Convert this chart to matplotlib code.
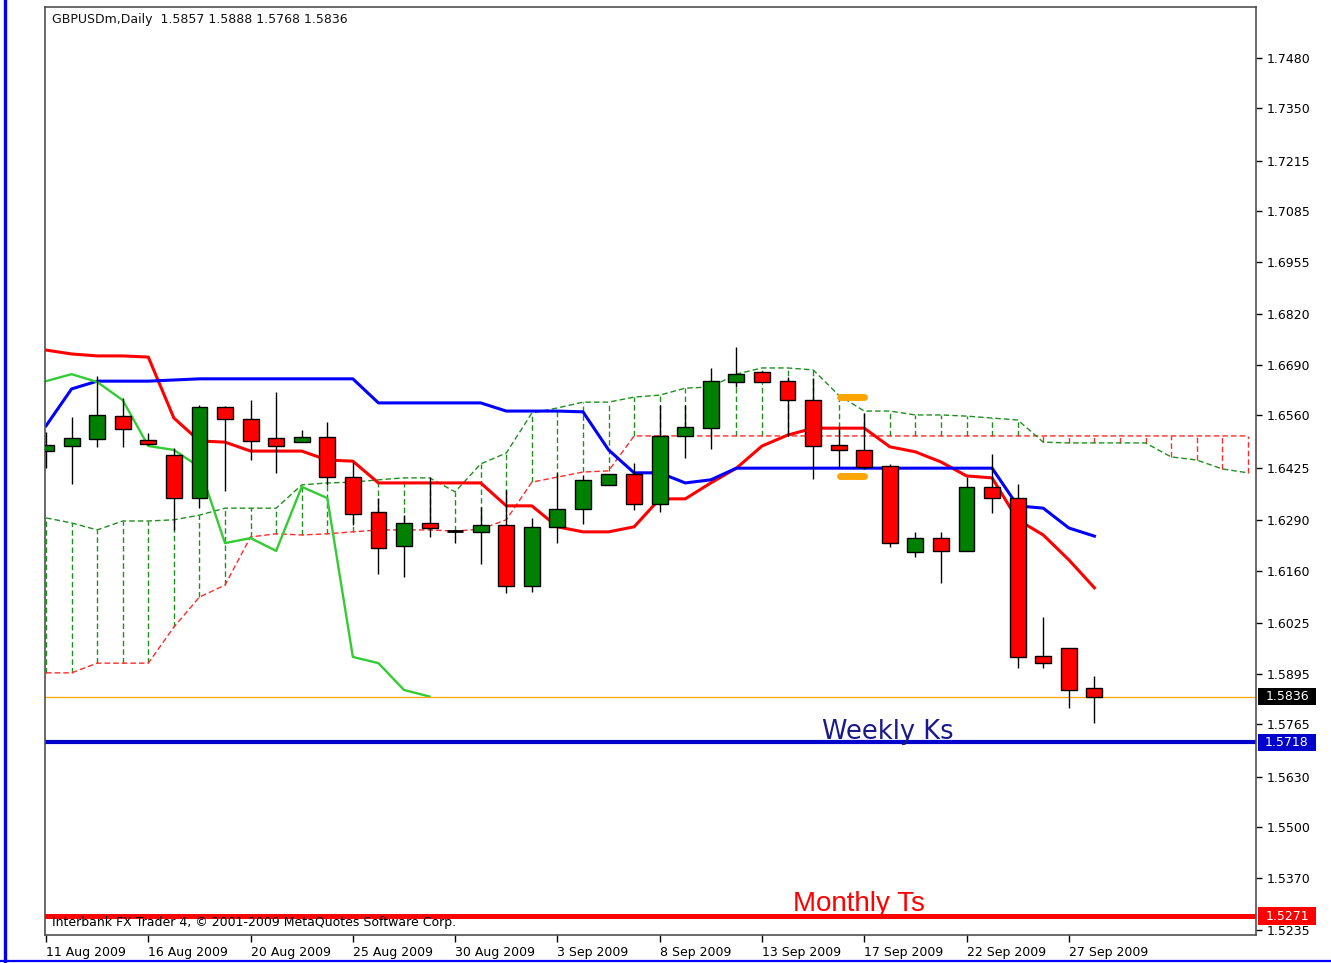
import matplotlib
matplotlib.use("Agg")
import matplotlib.pyplot as plt
import matplotlib.transforms as mtransforms
from matplotlib.patches import Rectangle
from matplotlib.lines import Line2D
import numpy as np

# GBPUSDm daily bars, 11 Aug 2009 .. 28 Sep 2009
opens = [1.6468, 1.6481, 1.6499, 1.6558, 1.6497, 1.6458, 1.6347, 1.6581, 1.6551, 1.6502,
         1.6491, 1.6504, 1.6401, 1.6311, 1.6224, 1.6283, 1.6262, 1.6260, 1.6278, 1.6121,
         1.6273, 1.6319, 1.6381, 1.6409, 1.6332, 1.6507, 1.6527, 1.6646, 1.6672, 1.6648,
         1.6599, 1.6484, 1.6471, 1.6430, 1.6208, 1.6244, 1.6211, 1.6376, 1.6347, 1.5940,
         1.5961, 1.5857]
highs = [1.6517, 1.6556, 1.6661, 1.6605, 1.6515, 1.6476, 1.6587, 1.6584, 1.6599, 1.6620,
         1.6522, 1.6543, 1.6440, 1.6347, 1.6303, 1.6401, 1.6263, 1.6324, 1.6368, 1.6296,
         1.6412, 1.6406, 1.6409, 1.6437, 1.6587, 1.6587, 1.6682, 1.6736, 1.6674, 1.6659,
         1.6656, 1.6530, 1.6566, 1.6435, 1.6260, 1.6260, 1.6401, 1.6460, 1.6383, 1.6041,
         1.5961, 1.5888]
lows = [1.6424, 1.6383, 1.6479, 1.6479, 1.6484, 1.6265, 1.6321, 1.6365, 1.6445, 1.6412,
        1.6491, 1.6381, 1.6278, 1.6152, 1.6144, 1.6247, 1.6231, 1.6177, 1.6103, 1.6105,
        1.6231, 1.6280, 1.6381, 1.6316, 1.6311, 1.6450, 1.6473, 1.6633, 1.6646, 1.6507,
        1.6396, 1.6424, 1.6422, 1.6221, 1.6195, 1.6128, 1.6211, 1.6309, 1.5910, 1.5910,
        1.5807, 1.5768]
closes = [1.6484, 1.6502, 1.6561, 1.6525, 1.6486, 1.6347, 1.6581, 1.6551, 1.6494, 1.6481,
          1.6504, 1.6401, 1.6306, 1.6218, 1.6283, 1.6270, 1.6262, 1.6278, 1.6121, 1.6273,
          1.6319, 1.6394, 1.6409, 1.6332, 1.6507, 1.6530, 1.6648, 1.6666, 1.6646, 1.6599,
          1.6481, 1.6471, 1.6427, 1.6231, 1.6244, 1.6211, 1.6376, 1.6347, 1.5938, 1.5922,
          1.5853, 1.5836]

# ichimoku lines
tenkan = [1.6728, 1.6718, 1.6713, 1.6713, 1.6710, 1.6553, 1.6494, 1.6491, 1.6468, 1.6468,
          1.6468, 1.6445, 1.6442, 1.6386, 1.6386, 1.6386, 1.6386, 1.6386, 1.6327, 1.6327,
          1.6273, 1.6260, 1.6260, 1.6273, 1.6345, 1.6345, 1.6386, 1.6424, 1.6481, 1.6509,
          1.6527, 1.6527, 1.6527, 1.6479, 1.6466, 1.6440, 1.6404, 1.6399, 1.6291, 1.6252,
          1.6188, 1.6116]
kijun = [1.6533, 1.6628, 1.6648, 1.6648, 1.6648, 1.6651, 1.6654, 1.6654, 1.6654, 1.6654,
         1.6654, 1.6654, 1.6654, 1.6592, 1.6592, 1.6592, 1.6592, 1.6592, 1.6571, 1.6571,
         1.6571, 1.6569, 1.6471, 1.6412, 1.6412, 1.6386, 1.6394, 1.6424, 1.6424, 1.6424,
         1.6424, 1.6424, 1.6424, 1.6424, 1.6424, 1.6424, 1.6424, 1.6424, 1.6327, 1.6321,
         1.6270, 1.6249]
# senkou spans, already shifted forward (48 bars)
span_a = [1.6296, 1.6283, 1.6265, 1.6288, 1.6288, 1.6291, 1.6303, 1.6321, 1.6321, 1.6321,
          1.6381, 1.6386, 1.6388, 1.6394, 1.6399, 1.6399, 1.6363, 1.6435, 1.6463, 1.6566,
          1.6579, 1.6594, 1.6594, 1.6607, 1.6612, 1.6630, 1.6633, 1.6666, 1.6682, 1.6682,
          1.6677, 1.6612, 1.6571, 1.6571, 1.6561, 1.6561, 1.6558, 1.6553, 1.6548, 1.6491,
          1.6489, 1.6489, 1.6489, 1.6489, 1.6453, 1.6445, 1.6422, 1.6412]
span_b = [1.5897, 1.5897, 1.5922, 1.5922, 1.5922, 1.6015, 1.6092, 1.6123, 1.6247, 1.6255,
          1.6252, 1.6255, 1.6260, 1.6265, 1.6265, 1.6265, 1.6262, 1.6267, 1.6291, 1.6388,
          1.6401, 1.6414, 1.6417, 1.6507, 1.6507, 1.6507, 1.6507, 1.6507, 1.6507, 1.6507,
          1.6507, 1.6507, 1.6507, 1.6507, 1.6507, 1.6507, 1.6507, 1.6507, 1.6507, 1.6507,
          1.6507, 1.6507, 1.6507, 1.6507, 1.6507, 1.6507, 1.6507, 1.6507]
chikou = closes[26:]

tick_bars = [0, 4, 8, 12, 16, 20, 24, 28, 32, 36, 40]
tick_labels = ['11 Aug 2009', '16 Aug 2009', '20 Aug 2009', '25 Aug 2009', '30 Aug 2009',
               '3 Sep 2009', '8 Sep 2009', '13 Sep 2009', '17 Sep 2009', '22 Sep 2009',
               '27 Sep 2009']
price_ticks = [1.7480, 1.7350, 1.7215, 1.7085, 1.6955, 1.6820, 1.6690, 1.6560, 1.6425,
               1.6290, 1.6160, 1.6025, 1.5895, 1.5765, 1.5630, 1.5500, 1.5370, 1.5235]

bid = 1.5836
weekly_ks = 1.5718
monthly_ts = 1.5271
mark_prices = [1.6607, 1.6404]
mark_bars = [31.07, 32.0]

W, H = 1331, 963
fig = plt.figure(figsize=(W / 100, H / 100), dpi=100)
fig.patch.set_facecolor('white')
ax = fig.add_axes([45 / W, 1 - 935 / H, (1256 - 45) / W, (935 - 7) / H])
ymin, ymax = 1.52221, 1.76113
ax.set_xlim(-0.04, 47.32)
ax.set_ylim(ymin, ymax)

GREEN_D = '#1f8f1f'
RED_D = '#ff2a2a'
dash = (0, (4, 2.2))

# kumo hatch + spans
xs = np.arange(len(span_a))
for i in xs:
    c = GREEN_D if span_a[i] >= span_b[i] else RED_D
    ax.vlines(i, min(span_a[i], span_b[i]), max(span_a[i], span_b[i]),
              colors=c, linestyles=dash, lw=1.0, zorder=1)
ax.plot(xs, span_b, color=RED_D, ls=dash, lw=1.0, zorder=1)
ax.plot(xs, span_a, color=GREEN_D, ls=dash, lw=1.0, zorder=1)

x = np.arange(len(closes))
ax.plot(x, tenkan, color='#ff0000', lw=2.2, zorder=2)
ax.plot(x, kijun, color='#0000ff', lw=2.2, zorder=2)
ax.plot(np.arange(len(chikou)), chikou, color='#33cc33', lw=1.7, zorder=2)

ax.axhline(bid, color='#ffa500', lw=0.9, zorder=2)
ax.axhline(weekly_ks, color='#0000cc', lw=3.0, zorder=2)
ax.axhline(monthly_ts, color='#ff0000', lw=3.6, zorder=2)

# candles
bw = 0.62
for i in x:
    o, h, l, c = opens[i], highs[i], lows[i], closes[i]
    ax.vlines(i, l, h, colors='black', lw=1.0, zorder=3)
    if abs(c - o) < 0.00005:
        ax.hlines(o, i - bw / 2, i + bw / 2, colors='black', lw=2.0, zorder=4)
        continue
    fc = '#008000' if c > o else '#ff0000'
    ax.add_patch(Rectangle((i - bw / 2, min(o, c)), bw, abs(c - o), facecolor=fc,
                           edgecolor='black', lw=1.0, zorder=4))

for m in mark_prices:
    ax.plot(mark_bars, [m, m], color='#ffa500', lw=5, solid_capstyle='round', zorder=5)

ax.text(30.35, 1.5727, 'Weekly Ks', fontsize=18.5, color='#1a1a8c',
        family='DejaVu Sans', va='baseline', ha='left', zorder=6)
ax.text(29.2, 1.5283, 'Monthly Ts', fontsize=20, color='#ff0000',
        family='Liberation Sans', va='baseline', ha='left', zorder=6)

ax.text(0.0058, 0.986, 'GBPUSDm,Daily  1.5857 1.5888 1.5768 1.5836', transform=ax.transAxes,
        fontsize=9, color='#111111', va='center', ha='left')
ax.text(0.0058, 0.0135, 'Interbank FX Trader 4, \u00a9 2001-2009 MetaQuotes Software Corp.',
        transform=ax.transAxes, fontsize=9, color='black', va='center', ha='left', zorder=7)

# axes, ticks
for s in ax.spines.values():
    s.set_color('#505050')
    s.set_linewidth(1.2)
ax.yaxis.tick_right()
ax.set_yticks(price_ticks)
ax.set_yticklabels(['%.4f' % p for p in price_ticks])
ax.tick_params(axis='y', direction='out', length=4, width=1, pad=4, labelsize=9,
               colors='black')
ax.set_xticks(tick_bars)
ax.set_xticklabels(tick_labels, ha='left')
ax.tick_params(axis='x', direction='out', length=5, width=1, pad=3, labelsize=9,
               colors='black')

# price boxes on the right scale
blend = mtransforms.blended_transform_factory(ax.transAxes, ax.transData)
bh = 0.0185 * (ymax - ymin)
for price, bg in [(bid, 'black'), (weekly_ks, '#0000cc'), (monthly_ts, '#ff0000')]:
    ax.add_patch(Rectangle((1.0017, price - bh / 2), 0.0478, bh, transform=blend,
                           facecolor=bg, edgecolor='none', clip_on=False, zorder=8))
    ax.text(1.0256, price, '%.4f' % price, transform=blend, color='white', fontsize=9,
            ha='center', va='center', clip_on=False, zorder=9)

# outer blue frame of the window
fig.add_artist(Line2D([4.5 / W, 4.5 / W], [0, 1], color='#0000ff', lw=2.4))
fig.add_artist(Line2D([0, 1], [1 - 960.5 / H, 1 - 960.5 / H], color='#0000ff', lw=1.6))

fig.savefig('out.png', dpi=100)
